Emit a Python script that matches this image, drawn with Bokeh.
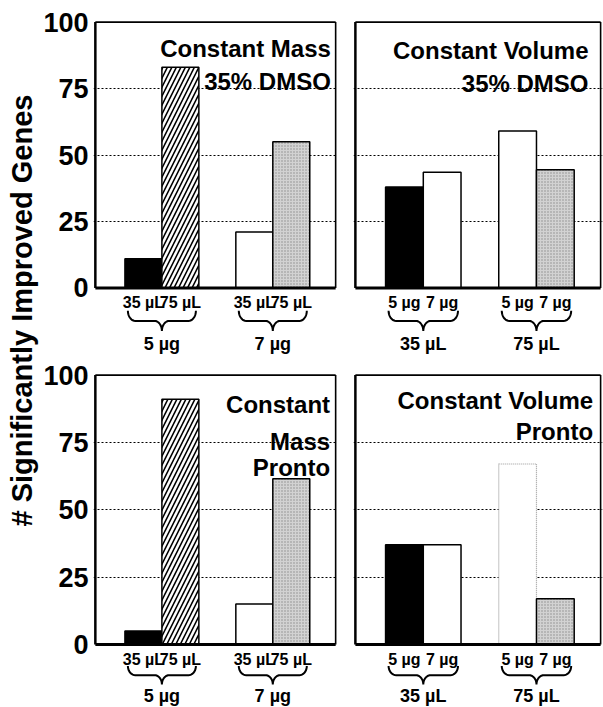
import numpy as np
from bokeh.plotting import figure
from bokeh.layouts import row, column
from bokeh.models import Range1d, FixedTicker
from bokeh.core.properties import value
from bokeh.embed import file_html
from bokeh.resources import INLINE

# ---------------- data ----------------
mass_groups = ["5 µg", "7 µg"]
mass_subs = ["35 µL", "75 µL"]
volume_groups = ["35 µL", "75 µL"]
volume_subs = ["5 µg", "7 µg"]

dmso_mass = [11, 83, 21, 55]
dmso_volume = [38, 43.5, 59, 44.5]
pronto_mass = [5, 91, 15, 61.5]
pronto_volume = [37, 37, 67, 17]

y_ticks = [0, 25, 50, 75, 100]
grid_ticks = [25, 50, 75]

title_dmso_mass = ["Constant Mass", "35% DMSO"]
title_dmso_volume = ["Constant Volume", "35% DMSO"]
title_pronto_mass = ["Constant", "Mass", "Pronto"]
title_pronto_volume = ["Constant Volume", "Pronto"]
y_title = "# Significantly Improved Genes"

# ---------------- styles ----------------
FONT = "Liberation Sans"
STYLES = {
    "black": dict(fill_color="black", line_color="black", line_width=1.5),
    "hatch": dict(fill_color="white", line_color="black", line_width=1.5,
                  hatch_pattern="/", hatch_color="black", hatch_scale=9, hatch_weight=1.6),
    "white": dict(fill_color="white", line_color="black", line_width=1.5),
    "gray": dict(fill_color="#d2d2d2", line_color="black", line_width=1.5,
                 hatch_pattern=".", hatch_color="#8c8c8c", hatch_scale=3, hatch_weight=0.6),
    "faint": dict(fill_color="white", line_color="#9a9a9a", line_width=1.2, line_dash="1 1"),
}
style_dmso_mass = ["black", "hatch", "white", "gray"]
style_dmso_volume = ["black", "white", "white", "gray"]
style_pronto_mass = ["black", "hatch", "white", "gray"]
style_pronto_volume = ["black", "white", "faint", "gray"]

X0, X1 = 0.0, 6.5


def brace_path(x0, x1, ytop, ybot, r=0.2):
    xc = (x0 + x1) / 2.0
    ymid = (ytop + ybot) / 2.0
    th = np.linspace(0, np.pi / 2, 10)
    ax = x0 + r * (1 - np.cos(th)); ay = ytop - (ytop - ymid) * np.sin(th)
    bx = xc - r + r * np.sin(th); by = ymid - (ymid - ybot) * (1 - np.cos(th))
    left_x = np.concatenate([ax, bx]); left_y = np.concatenate([ay, by])
    right_x = (2 * xc - left_x)[::-1]; right_y = left_y[::-1]
    return list(np.concatenate([left_x, right_x])), list(np.concatenate([left_y, right_y]))


def add_titles(p, titles, title_ys, title_inset):
    p.text(x=[X1 - title_inset] * len(titles), y=title_ys, text=titles,
           text_font=value(FONT), text_font_style="bold", text_font_size="24px",
           text_align="right", text_baseline="middle", text_color="black")


def make_panel(values, groups, subs, styles, titles, title_ys, title_inset,
               show_y, width, height, min_left, min_right, min_top, y_bottom,
               lab_y, brace_top, brace_bot, grp_y):
    p = figure(width=width, height=height,
               x_range=Range1d(X0 - 0.05, X1 + 0.05), y_range=Range1d(y_bottom, 100.6),
               output_backend="svg", toolbar_location=None,
               min_border_left=min_left, min_border_right=min_right,
               min_border_top=min_top, min_border_bottom=0)
    p.xaxis.visible = False
    p.outline_line_color = None
    p.xgrid.visible = False
    p.ygrid.ticker = FixedTicker(ticks=grid_ticks)
    p.ygrid.grid_line_color = "black"
    p.ygrid.grid_line_dash = "2 2"
    p.ygrid.grid_line_width = 1.2
    if show_y:
        p.yaxis.ticker = FixedTicker(ticks=y_ticks)
        p.yaxis.axis_line_color = None
        p.yaxis.major_tick_line_color = None
        p.yaxis.minor_tick_line_color = None
        p.yaxis.major_tick_out = 0
        p.yaxis.major_tick_in = 0
        p.yaxis.minor_tick_out = 0
        p.yaxis.minor_tick_in = 0
        p.yaxis.major_label_text_font = FONT
        p.yaxis.major_label_text_font_size = "27px"
        p.yaxis.major_label_text_font_style = "bold"
        p.yaxis.major_label_text_color = "black"
        p.yaxis.major_label_standoff = 5
    else:
        p.yaxis.visible = False

    centers = []
    labels = []
    k = 0
    for g, grp in enumerate(groups):
        for i, sub in enumerate(subs):
            xc = 1.3 + 3 * g + i
            centers.append(xc)
            labels.append(sub)
            p.vbar(x=[xc], top=[values[k]], bottom=0, width=1.0, **STYLES[styles[k]])
            k += 1

    # frame box
    p.segment(x0=[X0], y0=[0], x1=[X1], y1=[0], line_color="black", line_width=3)
    p.segment(x0=[X0], y0=[0], x1=[X0], y1=[100], line_color="black", line_width=2.5)
    p.segment(x0=[X0, X1], y0=[100, 0], x1=[X1, X1], y1=[100, 100], line_color="black", line_width=1.6)

    # category labels
    p.text(x=centers, y=[lab_y] * len(centers), text=labels,
           text_font=value(FONT), text_font_style="bold", text_font_size="16px",
           text_align="center", text_baseline="middle", text_color="black")
    # braces and group labels
    xs, ys, gx = [], [], []
    for g, grp in enumerate(groups):
        left = centers[2 * g] - 0.5 + 0.08
        right = centers[2 * g + 1] + 0.5 - 0.08
        bx, by = brace_path(left, right, brace_top, brace_bot)
        xs.append(bx); ys.append(by)
        gx.append((centers[2 * g] + centers[2 * g + 1]) / 2)
    p.multi_line(xs=xs, ys=ys, line_color="black", line_width=2)
    p.text(x=gx, y=[grp_y] * len(gx), text=groups,
           text_font=value(FONT), text_font_style="bold", text_font_size="18px",
           text_align="center", text_baseline="middle", text_color="black")

    if titles:
        add_titles(p, titles, title_ys, title_inset)
    return p


TOP_H, BOT_H = 360, 347
LAB_W, L_W, R_W = 40, 305, 258

tl = make_panel(dmso_mass, mass_groups, mass_subs, style_dmso_mass,
                title_dmso_mass, [90, 77.5], 0.13, True, L_W, TOP_H, 51, 8, 20, -27.3,
                -5.6, -8.6, -16.2, -21.0)
tr = make_panel(dmso_volume, volume_groups, volume_subs, style_dmso_volume,
                title_dmso_volume, [89.5, 77], 0.32, False, R_W, TOP_H, 8, 1, 20, -27.3,
                -5.6, -8.6, -16.2, -21.0)
bl = make_panel(pronto_mass, mass_groups, mass_subs, style_pronto_mass,
                None, None, 0.15, True, L_W, BOT_H, 51, 8, 13, -23.4,
                -5.6, -8.0, -14.8, -19.0)
add_titles(bl, title_pronto_mass, [89, 75.3, 65.7], 0.15)
br = make_panel(pronto_volume, volume_groups, volume_subs, style_pronto_volume,
                title_pronto_volume, [90.5, 79], 0.2, False, R_W, BOT_H, 8, 1, 13, -23.4,
                -5.6, -8.0, -14.8, -19.0)

ylab = figure(width=LAB_W, height=TOP_H + BOT_H, x_range=Range1d(0, 1), y_range=Range1d(0, 1),
              output_backend="svg", toolbar_location=None,
              min_border_left=0, min_border_right=0, min_border_top=0, min_border_bottom=0)
ylab.axis.visible = False
ylab.grid.visible = False
ylab.outline_line_color = None
ylab.text(x=[0.525], y=[0.5615], text=[y_title], angle=np.pi / 2,
          text_font=value(FONT), text_font_style="bold", text_font_size="29px",
          text_align="center", text_baseline="middle", text_color="black")

layout = row(ylab, column(row(tl, tr), row(bl, br)))

open("out.html", "w").write(file_html(layout, INLINE))
